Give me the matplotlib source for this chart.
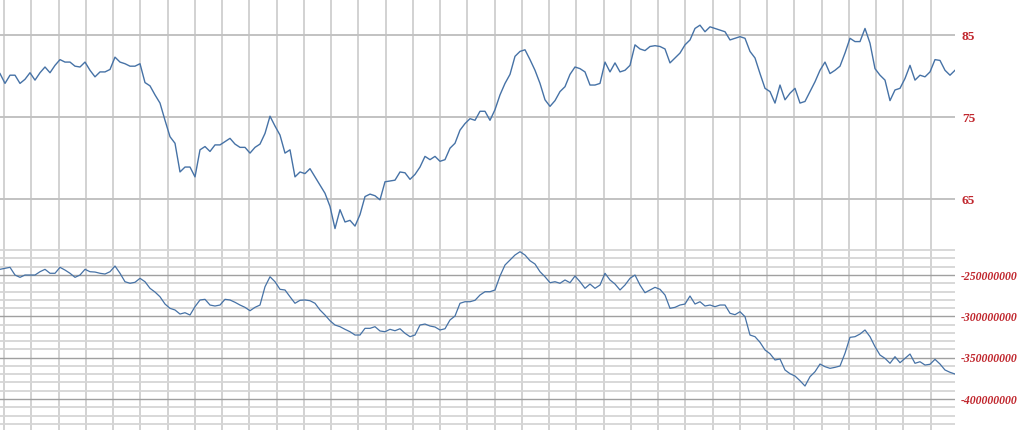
import numpy as np
import matplotlib
matplotlib.use("Agg")
import matplotlib.pyplot as plt
from matplotlib.ticker import FuncFormatter, MultipleLocator, FixedLocator

# Upper series (price), sampled at equal steps
price = [80.3, 79.1, 80.1, 80.1, 79.1, 79.6, 80.4, 79.5, 80.4, 81.1, 80.4, 81.3, 82.0, 81.7, 81.7, 81.2,
         81.1, 81.7, 80.7, 79.9, 80.5, 80.5, 80.8, 82.3, 81.7, 81.5, 81.2, 81.2, 81.5, 79.2, 78.8, 77.7,
         76.7, 74.6, 72.6, 71.8, 68.3, 68.9, 68.9, 67.7, 71.0, 71.4, 70.8, 71.6, 71.6, 72.0, 72.4, 71.7,
         71.3, 71.3, 70.6, 71.3, 71.7, 73.0, 75.1, 73.9, 72.8, 70.6, 71.0, 67.7, 68.3, 68.1, 68.7, 67.7,
         66.7, 65.7, 64.1, 61.4, 63.7, 62.2, 62.4, 61.7, 63.1, 65.3, 65.6, 65.4, 64.9, 67.1, 67.2, 67.3,
         68.3, 68.2, 67.4, 68.0, 68.9, 70.2, 69.8, 70.2, 69.6, 69.8, 71.2, 71.8, 73.4, 74.2, 74.8, 74.6,
         75.7, 75.7, 74.6, 75.9, 77.7, 79.1, 80.2, 82.4, 83.0, 83.2, 82.0, 80.7, 79.1, 77.1, 76.3, 77.0,
         78.1, 78.7, 80.2, 81.1, 80.9, 80.5, 78.9, 78.9, 79.1, 81.7, 80.5, 81.6, 80.5, 80.7, 81.3, 83.8,
         83.3, 83.1, 83.6, 83.7, 83.6, 83.3, 81.6, 82.2, 82.8, 83.8, 84.4, 85.8, 86.2, 85.4, 86.0, 85.8,
         85.6, 85.4, 84.4, 84.6, 84.8, 84.6, 83.0, 82.2, 80.3, 78.5, 78.1, 76.7, 78.9, 77.1, 77.9, 78.5,
         76.7, 76.9, 78.1, 79.3, 80.7, 81.7, 80.3, 80.7, 81.2, 82.8, 84.6, 84.2, 84.2, 85.8, 84.0, 80.9,
         80.1, 79.5, 77.0, 78.3, 78.5, 79.7, 81.3, 79.5, 80.1, 79.9, 80.5, 82.0, 81.9, 80.7, 80.1, 80.7]

# Lower series (in millions), same sampling
balance_m = [-243.1, -241.9, -240.7, -250.0, -252.8, -250.0, -250.0, -250.0, -246.0, -243.1, -247.9, -247.9,
             -240.7, -244.0, -247.9, -252.8, -250.0, -243.1, -246.0, -246.4, -247.9, -248.8, -246.0, -239.1,
             -247.9, -258.1, -260.0, -258.8, -254.0, -258.1, -266.1, -270.6, -276.3, -285.1, -290.3, -292.3,
             -297.2, -295.6, -298.4, -288.3, -280.2, -279.4, -286.3, -287.5, -286.3, -279.4, -280.2, -283.0,
             -286.3, -289.1, -293.2, -289.1, -286.3, -264.2, -252.1, -258.1, -267.3, -268.1, -276.3, -284.2,
             -280.6, -280.2, -281.1, -284.2, -292.3, -298.4, -305.3, -310.5, -312.5, -315.7, -318.6, -322.6,
             -322.6, -314.5, -314.5, -312.5, -317.7, -318.6, -315.7, -317.4, -315.0, -320.5, -324.6, -322.6,
             -310.5, -309.3, -311.7, -312.9, -316.5, -315.0, -304.4, -299.6, -284.2, -282.3, -282.3, -280.6,
             -274.2, -270.2, -270.2, -268.1, -251.2, -237.9, -231.9, -225.8, -221.8, -225.8, -232.7, -236.7,
             -246.0, -252.1, -259.3, -258.1, -260.0, -256.0, -259.3, -251.2, -258.1, -266.1, -260.9, -266.1,
             -262.1, -247.9, -256.0, -260.9, -268.1, -262.1, -254.0, -250.0, -262.1, -271.4, -268.1, -264.9,
             -267.3, -274.2, -290.3, -289.1, -286.3, -285.1, -275.4, -285.1, -282.3, -287.5, -286.3, -288.3,
             -286.3, -286.3, -296.3, -298.0, -294.4, -300.4, -322.6, -324.6, -331.4, -340.7, -345.2, -352.8,
             -351.6, -364.9, -369.4, -372.2, -377.9, -384.3, -373.0, -367.0, -357.7, -360.9, -362.9, -361.7,
             -360.1, -344.7, -325.4, -324.6, -321.4, -316.5, -324.6, -336.7, -346.8, -350.8, -356.8, -348.8,
             -356.1, -350.8, -345.6, -356.8, -354.9, -358.9, -358.0, -352.0, -357.7, -364.9, -367.7, -369.8]

price_ticks = [65, 75, 85]
balance_major_ticks = [-400e6, -350e6, -300e6, -250e6]

x = np.arange(len(price))
bal = np.array(balance_m) * 1e6

W, H = 1024, 430
fig = plt.figure(figsize=(W / 100, H / 100), dpi=100)
fig.patch.set_facecolor("white")

right = 955 / W
split = 247
ax1 = fig.add_axes([0, (H - split) / H, right, split / H])
ax2 = fig.add_axes([0, 0, right, (H - split) / H])

line_color = "#4672a6"
vgrid_color = "#cfcfcf"
label_color = "#c0262d"
vlines = np.arange(0.8, len(x), 5.45)

for ax in (ax1, ax2):
    ax.set_xlim(0, len(x) - 1)
    for s in ax.spines.values():
        s.set_visible(False)
    ax.set_facecolor("white")
    ax.xaxis.set_major_locator(FixedLocator(vlines))
    ax.tick_params(axis="x", length=0, labelbottom=False)
    ax.grid(axis="x", color=vgrid_color, linewidth=1.3)
    ax.yaxis.tick_right()
    ax.set_axisbelow(True)

# Top panel
ax1.plot(x, price, color=line_color, linewidth=1.0)
ax1.set_ylim(59.15, 89.27)
ax1.yaxis.set_major_locator(FixedLocator(price_ticks))
ax1.grid(axis="y", color="#c2c2c2", linewidth=1.4)
ax1.tick_params(axis="y", length=0, pad=5, labelcolor=label_color)
for t in ax1.get_yticklabels():
    t.set_fontfamily("Liberation Serif")
    t.set_fontweight("bold")
    t.set_fontsize(9.5)

# Bottom panel
ax2.plot(x, bal, color=line_color, linewidth=0.9)
ax2.set_ylim(-437.5e6, -216.1e6)
ax2.yaxis.set_major_locator(FixedLocator(balance_major_ticks))
ax2.yaxis.set_minor_locator(MultipleLocator(10e6))
ax2.yaxis.set_major_formatter(FuncFormatter(lambda v, p: "%d" % round(v)))
ax2.grid(axis="y", which="minor", color="#d6d6d6", linewidth=1.3)
ax2.grid(axis="y", which="major", color="#a0a0a0", linewidth=1.0)
ax2.tick_params(axis="y", which="both", length=0, pad=4, labelcolor=label_color)
for t in ax2.get_yticklabels():
    t.set_fontfamily("Liberation Serif")
    t.set_fontweight("bold")
    t.set_fontstyle("italic")
    t.set_fontsize(8.5)

fig.savefig("out.png", dpi=100, facecolor="white")
